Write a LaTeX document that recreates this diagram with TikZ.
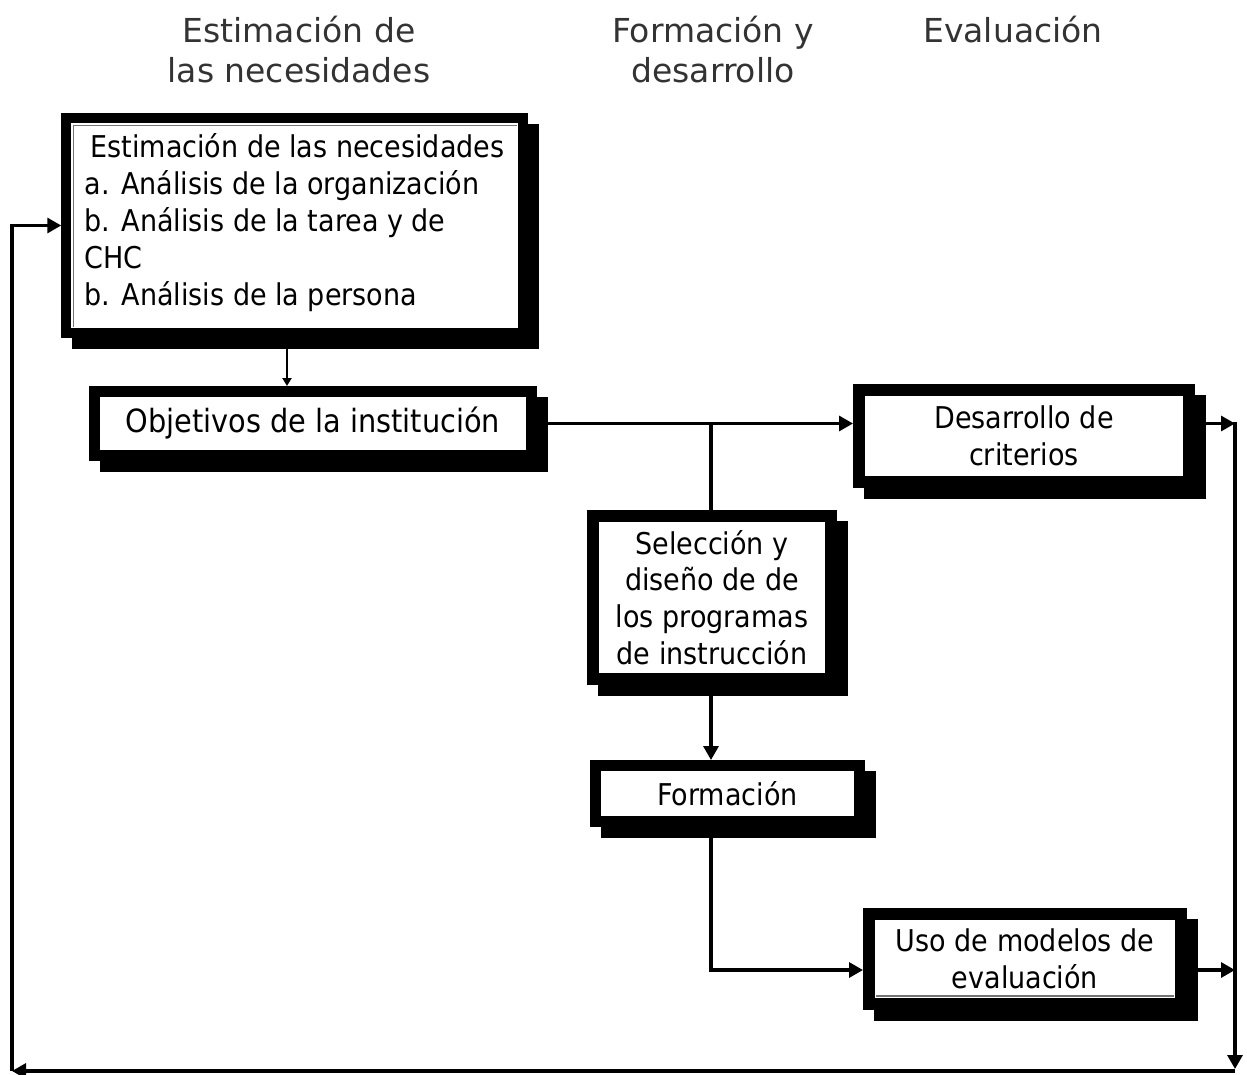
\documentclass[tikz,border=0pt]{standalone}
\usepackage{fontspec}
\setmainfont{DejaVu Sans}
\newfontfamily\boxfont{DejaVu Sans Condensed}
\usetikzlibrary{arrows.meta,backgrounds,calc}
\begin{document}
\begin{tikzpicture}[x=1pt,y=-1pt,
  box/.style={draw=black, line width=11pt, fill=white, inner sep=0pt,
    font=\boxfont\fontsize{30}{36.8}\selectfont, align=center},
  conn/.style={line width=3.2pt},
  arr/.style={conn,-{Triangle[length=14pt,width=15pt]}},
  inner/.style={draw=black!55, line width=1.2pt},
  head/.style={font=\fontsize{33}{40}\selectfont, text=black!80, align=center}]
\useasboundingbox (0,0) rectangle (1247,1074);

% headers
\node[head] (h1) at (299,50) {Estimación de\\las necesidades};
\node[head] (h2) at (713,50) {Formación y\\desarrollo};
\node[head] (h3) at (1013,30) {Evaluación};

% boxes
\node[box, line width=9.5pt, minimum width=457pt, minimum height=215pt, align=left] (b1) at (294.5,225.5)
  {\hspace*{6pt}Estimación de las necesidades\\a. Análisis de la organización\\b. Análisis de la tarea y de\\CHC\\b. Análisis de la persona\rule[-12pt]{0pt}{12pt}};
\node[box, minimum width=437pt, minimum height=64pt, font=\boxfont\fontsize{32}{36.8}\selectfont] (b2) at (313,423.5) {Objetivos de la institución};
\node[box, line width=12pt, minimum width=330pt, minimum height=92pt] (b3) at (1024,436) {Desarrollo de\\criterios};
\node[box, line width=12pt, minimum width=238pt, minimum height=163pt] (b4) at (712,597.5) {Selección y\\diseño de de\\los programas\\de instrucción};
\node[box, minimum width=264pt, minimum height=56pt] (b5) at (727.5,793.5) {Formación};
\node[box, line width=12pt, minimum width=312pt, minimum height=90pt] (b6) at (1025,959) {Uso de modelos de\\evaluación};

% shadows
\begin{scope}[on background layer]
\foreach \n in {b1,b2,b3,b4,b5,b6}
  \fill[black] ($(\n.north west)+(11,11)$) rectangle ($(\n.south east)+(11,11)$);
\end{scope}

% thin inner rules
\draw[inner] ($(b1.south west)+(12,-11)$) |- ($(b1.north east)+(-11,12)$);
\draw[inner] ($(b6.south west)+(13,-14)$) -- ($(b6.south east)+(-13,-14)$);

% connectors
\coordinate (x1) at (287,0);
\coordinate (vx) at (711,0);
\coordinate (rx) at (1235,0);
\coordinate (e6) at (0,970);
\coordinate (bl) at (12,1071);
\coordinate (br) at (1235,1069);

\draw[line width=2pt, -{Triangle[length=8pt,width=9pt]}] (x1 |- b1.south) -- (x1 |- b2.north);
\draw[arr] ($(b2.east)+(11,0)$) -- (b2.east -| b3.west);
\draw[conn] (vx |- b2.east) -- (vx |- b4.north);
\draw[arr] ($(vx |- b4.south)+(0,11)$) -- (vx |- b5.north);
\draw[arr] ($(vx |- b5.south)+(0,11)$) |- (b6.west |- e6);
\draw[arr] ($(b3.east |- b2.east)+(11,0)$) -- (rx |- b2.east);
\draw[arr] ($(b6.east |- e6)+(11,0)$) -- (rx |- e6);
\draw[arr] ($(rx |- b2.east)+(0,-1.6)$) -- (br);
\draw[arr] (rx |- bl) -- (bl);
\draw[arr] (bl) |- (b1.west);
\end{tikzpicture}
\end{document}
